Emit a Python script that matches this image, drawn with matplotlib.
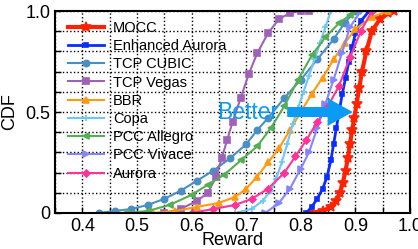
import matplotlib
matplotlib.use('Agg')
import matplotlib.pyplot as plt
import numpy as np

plt.rcParams['font.family'] = ['Liberation Sans', 'DejaVu Sans']

# CDF curves (reward, cdf)
mocc_x = [0.82, 0.84, 0.855, 0.865, 0.872, 0.877, 0.882, 0.886, 0.89, 0.894, 0.898, 0.902, 0.907, 0.912, 0.92, 0.93, 0.945, 0.96, 0.97]
mocc_y = [0.0, 0.01, 0.03, 0.06, 0.10, 0.15, 0.21, 0.27, 0.34, 0.41, 0.47, 0.54, 0.62, 0.70, 0.80, 0.90, 0.96, 0.99, 1.0]

enh_x = [0.81, 0.82, 0.83, 0.84, 0.848, 0.855, 0.86, 0.865, 0.87, 0.876, 0.882, 0.888, 0.894, 0.90, 0.91, 0.925]
enh_y = [0.0, 0.03, 0.07, 0.12, 0.18, 0.26, 0.34, 0.42, 0.50, 0.59, 0.67, 0.75, 0.82, 0.89, 0.95, 1.0]

cubic_x = [0.43, 0.46, 0.49, 0.52, 0.55, 0.58, 0.61, 0.64, 0.67, 0.70, 0.72, 0.74, 0.77, 0.80, 0.83, 0.86, 0.88, 0.90]
cubic_y = [0.0, 0.01, 0.02, 0.04, 0.07, 0.11, 0.16, 0.21, 0.27, 0.34, 0.41, 0.47, 0.57, 0.66, 0.76, 0.86, 0.94, 1.0]

vegas_x = [0.55, 0.58, 0.61, 0.63, 0.645, 0.655, 0.665, 0.675, 0.69, 0.705, 0.72, 0.74, 0.76, 0.78, 0.80, 0.815]
vegas_y = [0.0, 0.02, 0.06, 0.10, 0.18, 0.27, 0.36, 0.45, 0.57, 0.69, 0.79, 0.89, 0.96, 0.99, 1.0, 1.0]

bbr_x = [0.53, 0.57, 0.61, 0.65, 0.68, 0.70, 0.72, 0.74, 0.76, 0.78, 0.80, 0.82, 0.84, 0.86, 0.88, 0.90, 0.93, 0.96]
bbr_y = [0.0, 0.01, 0.03, 0.05, 0.08, 0.12, 0.18, 0.25, 0.32, 0.41, 0.50, 0.59, 0.67, 0.76, 0.84, 0.91, 0.97, 1.0]

copa_x = [0.68, 0.71, 0.73, 0.745, 0.755, 0.765, 0.775, 0.785, 0.795, 0.805, 0.815, 0.825, 0.835, 0.845, 0.855]
copa_y = [0.0, 0.02, 0.06, 0.11, 0.17, 0.25, 0.34, 0.44, 0.52, 0.60, 0.68, 0.76, 0.84, 0.92, 1.0]

allegro_x = [0.48, 0.52, 0.56, 0.60, 0.63, 0.66, 0.69, 0.72, 0.745, 0.77, 0.795, 0.82, 0.845, 0.87, 0.89, 0.905]
allegro_y = [0.0, 0.01, 0.04, 0.09, 0.14, 0.19, 0.26, 0.33, 0.42, 0.53, 0.66, 0.78, 0.87, 0.94, 0.98, 1.0]

vivace_x = [0.735, 0.76, 0.78, 0.80, 0.815, 0.83, 0.845, 0.86, 0.875, 0.89, 0.91]
vivace_y = [0.0, 0.05, 0.12, 0.22, 0.30, 0.42, 0.54, 0.66, 0.79, 0.92, 1.0]

aurora_x = [0.60, 0.64, 0.68, 0.71, 0.74, 0.77, 0.79, 0.81, 0.83, 0.85, 0.87, 0.89, 0.91, 0.93]
aurora_y = [0.0, 0.02, 0.04, 0.07, 0.12, 0.20, 0.28, 0.36, 0.45, 0.53, 0.63, 0.77, 0.90, 1.0]

series = [
    ('MOCC', mocc_x, mocc_y, '#ff2200', '*', 3.0, 7),
    ('Enhanced Aurora', enh_x, enh_y, '#0a2cff', 's', 2.0, 3.5),
    ('TCP CUBIC', cubic_x, cubic_y, '#4a8fc4', 'o', 1.5, 4.5),
    ('TCP Vegas', vegas_x, vegas_y, '#a062b8', 's', 1.5, 4),
    ('BBR', bbr_x, bbr_y, '#ff9a10', '^', 1.5, 4),
    ('Copa', copa_x, copa_y, '#6cc8f5', '+', 1.5, 5),
    ('PCC Allegro', allegro_x, allegro_y, '#55ad55', '<', 1.5, 4),
    ('PCC Vivace', vivace_x, vivace_y, '#8585ff', '>', 1.5, 4),
    ('Aurora', aurora_x, aurora_y, '#ff3399', 'D', 1.5, 3.5),
]

fig = plt.figure(figsize=(4.18, 2.49), dpi=100)
ax = fig.add_axes([0.1316, 0.1446, 0.8494, 0.8112])

for name, xs, ys, color, marker, lw, ms in series:
    ax.plot(xs, ys, color=color, marker=marker, lw=lw, ms=ms, mew=1.2, label=name)

ax.set_xlim(0.35, 1.0)
ax.set_ylim(0, 1.0)
ax.set_xticks([0.4, 0.5, 0.6, 0.7, 0.8, 0.9, 1.0])
ax.set_xticklabels(['0.4', '0.5', '0.6', '0.7', '0.8', '0.9', '1.0'])
ax.set_xticks(np.arange(0.35, 1.0, 0.05), minor=True)
ax.set_yticks([0, 0.5, 1.0])
ax.set_yticklabels(['0', '0.5', '1.0'])
ax.set_yticks(np.arange(0, 1.0, 0.1), minor=True)
ax.tick_params(which='both', direction='in', labelsize=13, length=4, width=1)
ax.grid(which='both', color='black', linestyle=':', linewidth=1)
for sp in ax.spines.values():
    sp.set_linewidth(1.5)

ax.set_xlabel('Reward', fontsize=13)
ax.xaxis.set_label_coords(0.5, -0.095)
ax.set_ylabel('CDF', fontsize=13)
ax.yaxis.set_label_coords(-0.105, 0.5)

leg = ax.legend(loc='upper left', frameon=False, fontsize=10.5, handlelength=2.5,
                labelspacing=0.29, handletextpad=0.6, borderaxespad=0.0,
                bbox_to_anchor=(0.02, 0.98))

ax.annotate('', xy=(0.9, 0.5), xytext=(0.77, 0.5), zorder=6,
            arrowprops=dict(arrowstyle='simple,head_width=1.0,head_length=0.9,tail_width=0.36',
                            color='#0a9bf5', lw=0, mutation_scale=20))
ax.text(0.703, 0.5, 'Better', color='#0a9bf5', fontsize=16.5, ha='center', va='center', zorder=6)

fig.savefig('out.png', dpi=100)
